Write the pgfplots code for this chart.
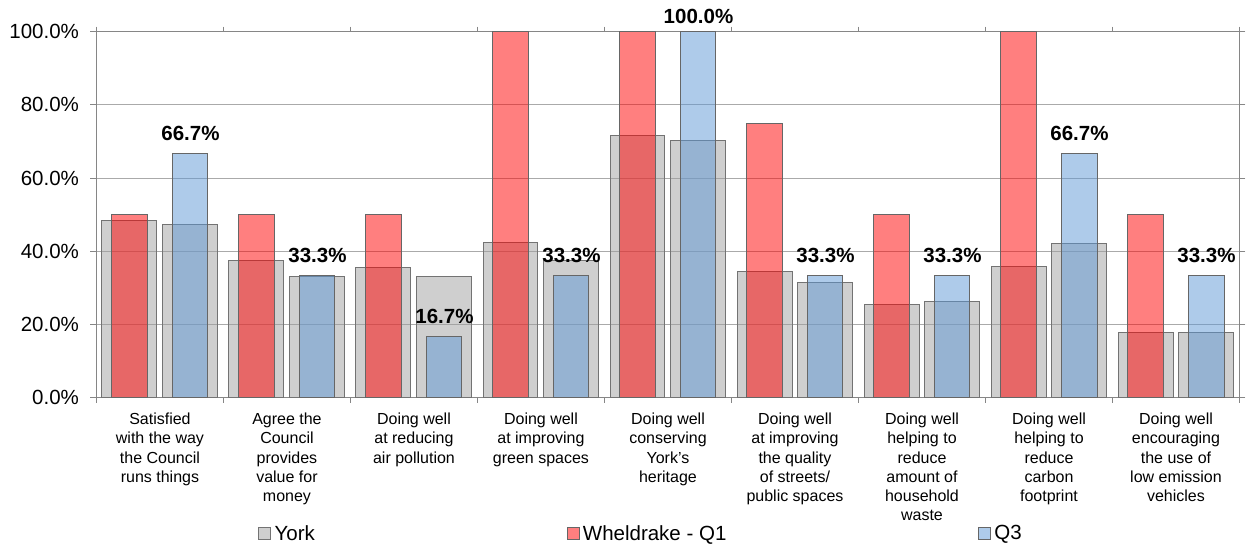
\documentclass[border=0pt]{standalone}
\usepackage{fontspec}
\setmainfont{Liberation Sans}
\usepackage{pgfplots}
\pgfplotsset{compat=1.18}
\usepackage{pgfplotstable}

\definecolor{greybar}{RGB}{160,160,160}
\definecolor{redbar}{RGB}{255,0,0}
\definecolor{bluebar}{RGB}{93,151,213}
\definecolor{gridc}{RGB}{170,170,170}
\definecolor{axisc}{RGB}{134,134,134}

% York (beside Q1 and beside Q3), Wheldrake Q1, Q3
\pgfplotstableread{
x york1 york2 q1 q3
0 48.3 47.4 50 66.7
1 37.5 33.2 50 33.3
2 35.5 33.1 50 16.7
3 42.3 37.4 100 33.3
4 71.7 70.3 100 100
5 34.5 31.6 75 33.3
6 25.5 26.2 50 33.3
7 35.8 42.0 100 66.7
8 17.7 17.8 50 33.3
}\datatable

\pgfplotsset{
  sq/.style={legend image code/.code={\draw[##1] (0pt,-3.6pt) rectangle (7.2pt,3.6pt);}},
}

\begin{document}
\begin{tikzpicture}
\begin{axis}[
  scale only axis,
  width=685.8pt, height=219.6pt,
  xmin=-0.5, xmax=8.5, ymin=0, ymax=100,
  clip=false,
  axis line style={draw=axisc, line width=0.6pt},
  tick align=outside,
  ytick={0,20,...,100},
  yticklabel={\pgfmathprintnumber[fixed,fixed zerofill,precision=1,assume math mode=true]{\tick}\%},
  yticklabel style={font=\fontsize{12.3}{14}\selectfont, xshift=-3.4pt},
  ytick style={draw=axisc, line width=0.6pt},
  major tick length=3.6pt,
  ymajorgrids,
  grid style={draw=gridc, line width=0.6pt},
  xtick={0,...,8},
  xtick style={draw=none},
  xticklabels={
    {Satisfied\\with the way\\the Council\\runs things},
    {Agree the\\Council\\provides\\value for\\money},
    {Doing well\\at reducing\\air pollution},
    {Doing well\\at improving\\green spaces},
    {Doing well\\conserving\\York's\\heritage},
    {Doing well\\at improving\\the quality\\of streets/\\public spaces},
    {Doing well\\helping to\\reduce\\amount of\\household\\waste},
    {Doing well\\helping to\\reduce\\carbon\\footprint},
    {Doing well\\encouraging\\the use of\\low emission\\vehicles}},
  xticklabel style={align=center, font=\fontsize{9.6}{11.55}\selectfont, anchor=north, yshift=-2pt},
  extra x ticks={-0.5,0.5,...,8.5},
  extra x tick labels={},
  extra x tick style={xtick style={draw=axisc, line width=0.6pt}, major tick length=3pt, grid=none},
  legend style={at={(0.1413,-0.372)}, anchor=west, draw=none, fill=none, inner sep=0pt,
    legend columns=-1, font=\fontsize{12.3}{14}\selectfont,
    /tikz/every even column/.append style={column sep=149pt},
    /tikz/every odd column/.append style={column sep=0pt}},
  legend cell align=left,
]
\addplot[ybar, sq, bar width=0.433, bar shift=-0.24, fill=greybar, fill opacity=0.5, draw=black!55, line width=0.6pt]
  table[x=x, y=york1] {\datatable};
\addplot[ybar, forget plot, bar width=0.433, bar shift=0.24, fill=greybar, fill opacity=0.5, draw=black!55, line width=0.6pt]
  table[x=x, y=york2] {\datatable};
\addplot[ybar, sq, bar width=0.276, bar shift=-0.24, fill=redbar, fill opacity=0.5, draw=black!60, line width=0.6pt]
  table[x=x, y=q1] {\datatable};
\addplot[ybar, sq, bar width=0.276, bar shift=0.24, fill=bluebar, fill opacity=0.5, draw=black!60, line width=0.6pt,
  visualization depends on={\thisrow{q3} \as \rawy},
  nodes near coords={\pgfmathprintnumber[fixed,fixed zerofill,precision=1,assume math mode=true]{\pgfplotspointmeta}\%},
  nodes near coords style={font=\fontsize{12.3}{14}\selectfont\bfseries, anchor=south, inner sep=0pt,
    xshift=18.3pt, yshift={7.6pt-(\rawy>99)*3pt}, fill opacity=1, text opacity=1, text=black}]
  table[x=x, y=q3] {\datatable};
\legend{York, Wheldrake - Q1, Q3}
% page extent of the reference picture
\path (rel axis cs:-0.0844,-0.4079) rectangle (rel axis cs:1.0092,1.0866);
\end{axis}
\end{tikzpicture}
\end{document}
